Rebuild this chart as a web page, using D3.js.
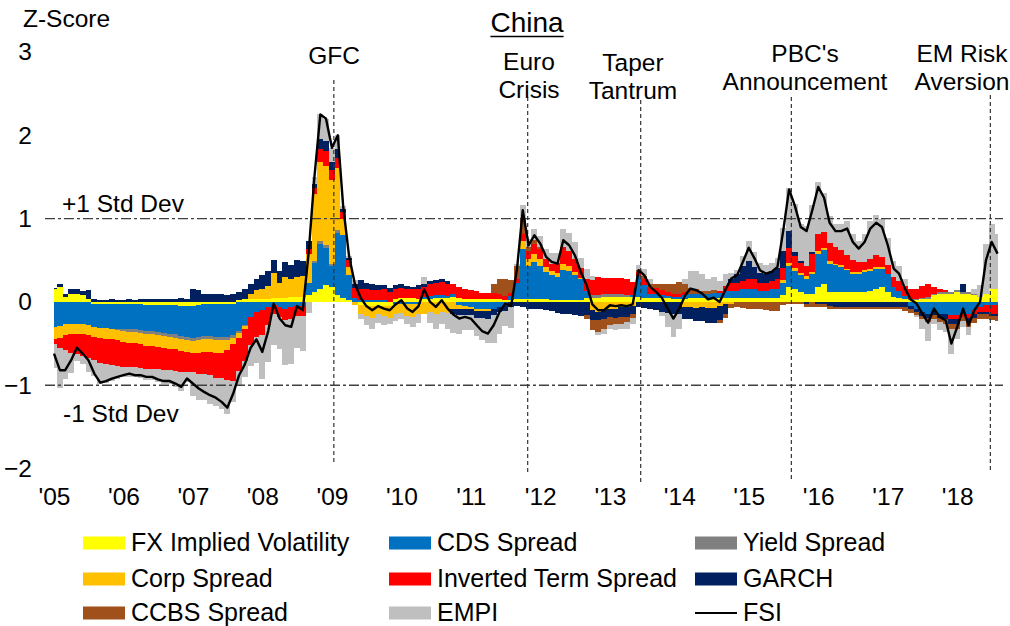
<!DOCTYPE html>
<html>
<head>
<meta charset="utf-8">
<script src="https://cdn.jsdelivr.net/npm/d3@7"></script>
<style>
  body { margin: 0; background: #fff; }
  svg text { font-family: "Liberation Sans", Arial, sans-serif; fill: #000; }
</style>
</head>
<body>
<svg id="chart" width="1010" height="626"></svg>
<script>
// monthly contributions to the FSI, Jan 2005 .. Aug 2018 (one row per year)
var fxVol = [
  .15, .18, .06, .10, .10, .08, .04, -.02, -.03, -.03, -.03, -.03,
  -.03, -.03, -.03, -.03, -.04, -.04, -.04, -.04, -.04, -.04, -.05, -.05,
  -.05, -.04, -.03, -.03, -.03, -.03, -.03, -.02, .02, .03, .04, .04,
  .04, .04, .05, .05, .05, .06, .06, .06, .08, .12, .15, .20,
  .18, .08, .05, .02, 0, -.04, -.05, -.05, -.05, -.05, -.05, .04,
  .05, .05, .05, .04, .04, .04, .05, .05, .05, .06, .05, .04,
  .04, .04, .03, .03, .03, .03, .02, .02, .03, .03, .03, .03,
  .03, .03, .02, .02, .02, .02, .02, .02, .05, .05, .05, .06,
  .06, .06, .06, .06, .06, .06, .05, .05, .05, .05, .05, .04,
  .04, .04, .05, .05, .05, .05, .05, .05, .05, .05, .05, .05,
  .05, .05, .05, .05, .05, .05, .08, .18, .15, .12, .10, .10,
  .18, .22, .12, .12, .12, .12, .12, .12, .12, .13, .16, .18,
  .12, .06, .05, .03, .02, .02, .03, .04, .08, .10, .10, .10,
  .12, .10, .10, .08, .06, .10, .15, .16
];
var cdsSpread = [
  -.30, -.29, -.27, -.27, -.27, -.27, -.28, -.28, -.28, -.28, -.29, -.29,
  -.30, -.30, -.30, -.31, -.31, -.31, -.32, -.33, -.34, -.35, -.36, -.37,
  -.38, -.38, -.38, -.38, -.39, -.39, -.39, -.38, -.35, -.28, -.18, -.12,
  -.10, -.06, -.04, -.06, -.08, -.06, -.05, -.05, .15, .35, .55, .45,
  .25, .75, .75, .30, .05, .02, .02, .02, .02, .02, 0, -.03,
  -.03, -.03, -.02, -.03, .02, .03, .03, .03, .02, .03, -.04, -.05,
  -.06, -.08, -.08, -.08, -.08, -.06, -.05, .05, .20, .60, .40, .45,
  .40, .33, .30, .28, .36, .35, .30, .25, .08, 0, 0, 0,
  0, 0, 0, 0, .02, .25, .15, .05, .04, .03, .02, .02,
  .02, .04, .04, .04, .04, .05, .06, .06, .08, .08, .08, .10,
  .10, .10, .08, .08, .10, .10, .15, .25, .22, .20, .18, .24,
  .40, .40, .34, .32, .30, .26, .22, .22, .24, .24, .24, .22,
  .22, .12, .08, .04, -.05, -.08, -.12, -.14, -.12, -.14, -.15, -.16,
  -.16, -.14, -.14, -.10, -.06, -.04, -.04, -.04
];
var yieldSpread = [
  0, 0, 0, 0, 0, 0, 0, 0, 0, 0, 0, -.02,
  -.02, -.03, -.03, -.03, -.04, -.04, -.04, -.04, -.04, -.04, -.04, -.04,
  -.04, -.04, -.04, -.04, -.04, -.04, -.04, -.03, -.02, -.01, 0, 0,
  0, 0, 0, 0, 0, 0, 0, 0, 0, .02, .03, .03,
  .03, .03, 0, 0, 0, 0, 0, 0, 0, 0, 0, 0,
  0, 0, 0, 0, 0, 0, 0, 0, 0, 0, 0, 0,
  0, 0, 0, 0, 0, 0, 0, 0, 0, 0, 0, 0,
  0, 0, 0, 0, 0, 0, 0, 0, 0, .03, .03, .03,
  .03, .03, .03, .02, 0, 0, 0, 0, 0, 0, 0, 0,
  0, 0, 0, 0, 0, 0, 0, 0, 0, 0, 0, 0,
  0, 0, 0, 0, 0, 0, 0, 0, 0, 0, 0, 0,
  0, 0, 0, 0, 0, 0, 0, 0, 0, 0, 0, 0,
  0, 0, 0, 0, .02, .02, .02, .02, .02, .02, .02, .02,
  .02, .02, .02, .02, 0, 0, 0, 0
];
var corpSpread = [
  -.15, -.14, -.13, -.12, -.12, -.12, -.12, -.12, -.12, -.13, -.13, -.12,
  -.13, -.13, -.13, -.13, -.14, -.14, -.14, -.14, -.14, -.14, -.14, -.14,
  -.14, -.15, -.15, -.15, -.15, -.15, -.12, -.08, -.06, -.04, .06, .10,
  .12, .15, .30, .18, .25, .22, .24, .25, .35, .80, .95, .95,
  1.0, .75, .20, .10, -.04, -.10, -.12, -.14, -.10, -.12, -.14, -.12,
  -.10, -.14, -.16, -.12, -.15, -.12, -.15, -.12, -.13, -.08, -.05, -.04,
  -.03, -.03, -.03, -.03, 0, 0, 0, 0, 0, .10, .08, .10,
  .08, .06, .05, .05, .08, .06, .04, .02, 0, -.10, -.12, -.10,
  -.08, -.08, -.06, -.06, -.05, 0, 0, 0, 0, 0, 0, 0,
  0, -.06, -.06, -.07, -.06, -.07, -.07, -.05, -.03, -.02, 0, 0,
  0, 0, 0, 0, 0, 0, .03, .04, .04, .03, .03, .02,
  .03, .03, .03, .02, .02, .02, .02, .02, .02, .02, .02, .02,
  0, 0, 0, 0, 0, 0, 0, 0, 0, 0, 0, 0,
  0, 0, 0, 0, 0, 0, 0, 0
];
var termSpread = [
  -.06, -.12, -.18, -.22, -.24, -.26, -.27, -.28, -.30, -.30, -.31, -.31,
  -.30, -.29, -.29, -.29, -.28, -.28, -.27, -.27, -.26, -.26, -.25, -.24,
  -.23, -.25, -.26, -.28, -.30, -.30, -.36, -.44, -.40, -.38, -.34, -.30,
  -.30, -.22, -.10, -.12, -.14, -.15, -.12, -.12, .05, .08, .15, .18,
  .12, .12, .08, .08, .12, .14, .13, .12, .12, .13, .12, .12,
  .12, .10, .10, .12, .12, .14, .15, .16, .15, .13, .13, .12,
  .10, .09, .08, .08, .08, .06, .05, .04, .05, .08, .10, .12,
  .12, .10, .08, .12, .20, .18, .16, .12, .15, .18, .22, .20,
  .20, .20, .20, .20, .16, .05, .08, .08, .08, .06, .05, .04,
  .04, .04, 0, 0, 0, 0, 0, .02, .06, .10, .10, .10,
  .12, .12, .10, .10, .10, .12, .15, .18, .14, .12, .12, .22,
  .20, .19, .22, .20, .18, .16, .14, .12, .10, .12, .14, .12,
  .10, .12, .12, .12, .12, .12, .14, .16, .08, .04, .02, -.04,
  -.04, -.04, -.05, -.05, -.06, -.08, -.10, -.10
];
var garch = [
  .02, .03, .04, .05, .06, .05, .10, .03, .02, .02, .03, .02,
  .02, .04, .02, .03, .04, .04, .03, .03, .04, .04, .05, .04,
  .15, .14, .10, .10, .10, .09, .08, .10, .10, .12, .12, .14,
  .16, .18, .15, .14, .18, .16, .20, .18, .10, .05, .12, .12,
  .10, .10, .04, .03, .05, .10, .08, .08, .06, .05, .05, .04,
  .05, .04, .03, .04, .04, .04, .03, .04, .03, -.06, -.07, -.07,
  -.07, -.08, -.08, -.09, -.08, -.06, -.06, -.06, -.05, -.06, -.08, -.08,
  -.09, -.10, -.11, -.13, -.14, -.15, -.16, -.17, -.16, -.12, -.10, -.10,
  -.10, -.11, -.12, -.12, -.10, -.06, -.07, -.09, -.10, -.12, -.13, -.14,
  -.14, -.14, -.15, -.16, -.17, -.18, -.18, -.17, -.12, .05, .10, .18,
  .22, .15, .12, .10, .12, .14, .20, .20, .05, .02, -.03, .02,
  -.03, -.03, -.05, -.06, -.06, -.06, -.06, -.06, -.06, -.06, -.06, -.06,
  -.06, -.06, -.06, -.06, -.04, -.04, -.05, -.05, -.04, -.05, -.06, -.06,
  -.06, .10, -.05, -.04, -.03, -.03, -.03, -.03
];
var ccbsSpread = [
  0, 0, 0, 0, 0, 0, 0, 0, 0, 0, 0, 0,
  0, 0, 0, 0, 0, 0, 0, 0, 0, 0, 0, 0,
  0, 0, 0, 0, 0, 0, 0, 0, 0, 0, 0, 0,
  0, 0, 0, 0, 0, 0, 0, 0, 0, 0, 0, 0,
  0, 0, 0, 0, 0, 0, 0, 0, 0, 0, 0, 0,
  0, 0, 0, 0, 0, 0, 0, 0, 0, 0, 0, 0,
  0, 0, 0, 0, .10, .18, .20, .15, .15, .20, .05, .04,
  .03, 0, 0, 0, 0, 0, 0, 0, -.04, -.12, -.14, -.12,
  -.10, -.08, -.08, -.06, -.04, .02, .03, .04, .05, .08, .10, .12,
  .14, .10, .08, .06, .04, .03, .03, -.03, -.04, -.05, -.06, -.07,
  -.08, -.08, -.09, -.10, -.11, -.11, -.04, -.02, -.02, -.03, -.03, -.06,
  -.03, -.03, -.03, -.03, -.03, -.03, -.03, -.03, -.03, -.03, -.03, -.03,
  -.03, -.03, -.03, -.05, -.04, -.04, -.04, -.05, -.04, -.05, -.05, -.06,
  -.06, -.05, -.06, -.06, -.05, -.05, -.05, -.06
];
var empi = [
  -.28, -.48, -.34, -.24, -.08, -.10, -.17, -.19, -.26, -.23, -.19, -.15,
  -.12, -.12, -.12, -.12, -.13, -.13, -.15, -.16, -.17, -.19, -.23, -.12,
  -.29, -.32, -.32, -.34, -.34, -.38, -.41, -.25, -.17, -.19, -.25, -.31,
  -.52, -.44, -.38, -.39, -.54, -.53, -.38, -.42, -.13, .08, .30, .27,
  .17, .17, .03, .02, .04, -.07, -.11, -.13, -.10, -.11, -.08, -.08,
  -.07, -.10, -.12, -.10, .08, -.13, -.17, -.14, -.20, -.23, -.22, -.18,
  -.18, -.22, -.27, -.29, -.33, -.27, -.18, -.25, .02, .15, .10, .14,
  .13, .12, .14, .12, .22, .22, .20, .12, .12, .05, -.04, -.07,
  -.05, -.07, -.07, -.09, -.08, .06, .08, .05, 0, -.05, -.17, -.28,
  -.18, .06, .20, .22, .20, .15, .16, .12, .15, .07, .05, .12,
  .24, .18, .12, .11, .10, .12, .28, .52, .57, .44, .48, .56,
  .63, .47, .32, .28, .32, .41, .31, .25, .33, .46, .48, .45,
  .33, .19, .18, .08, 0, -.02, -.12, -.23, -.06, -.10, -.10, -.30,
  -.12, -.07, -.10, .05, .14, .60, .79, .65
];

var seriesKeys = ["fx", "cds", "yld", "corp", "term", "garch", "ccbs", "empi"];
var seriesNames = ["FX Implied Volatility", "CDS Spread", "Yield Spread", "Corp Spread",
                   "Inverted Term Spread", "GARCH", "CCBS Spread", "EMPI"];
var seriesColors = ["#ffff00", "#0070c0", "#808080", "#ffc000",
                    "#ff0000", "#002060", "#a0501a", "#bfbfbf"];
var yTicks = [3, 2, 1, 0, -1, -2];
var yearTicks = d3.range(2005, 2019).map(function(y) { return new Date(y, 0, 1); });

// crisis markers: label lines, date, pixel top/bottom of the dashed line
var events = [
  {lines: ["GFC"], date: new Date(2009, 0, 11), top: 80, bottom: 463, labelY: 64},
  {lines: ["Euro", "Crisis"], date: new Date(2011, 9, 27), top: 97, bottom: 473, labelY: 70},
  {lines: ["Taper", "Tantrum"], date: new Date(2013, 5, 12), top: 100, bottom: 482, labelY: 71},
  {lines: ["PBC's", "Announcement"], date: new Date(2015, 7, 13), top: 97, bottom: 480, labelY: 62},
  {lines: ["EM Risk", "Aversion"], date: new Date(2018, 5, 24), top: 95, bottom: 473, labelY: 62}
];

var months = d3.timeMonth.range(new Date(2005, 0, 1), new Date(2018, 8, 1));
var cols = [fxVol, cdsSpread, yieldSpread, corpSpread, termSpread, garch, ccbsSpread, empi];

var table = months.map(function(d, i) {
  var row = {date: d};
  seriesKeys.forEach(function(k, j) { row[k] = cols[j][i]; });
  // the FSI is the sum of its components
  row.fsi = d3.sum(seriesKeys, function(k) { return row[k]; });
  return row;
});

var svg = d3.select("#chart");

var x = d3.scaleTime()
  .domain([new Date(2005, 0, 1), new Date(2018, 7, 19)])
  .range([54, 1001]);

var y = d3.scaleLinear()
  .domain([-2, 3])
  .range([468.5, 52]);

var stack = d3.stack()
  .keys(seriesKeys)
  .offset(d3.stackOffsetDiverging);

var layers = stack(table);

var area = d3.area()
  .x(function(d) { return x(d.data.date); })
  .y0(function(d) { return y(d[0]); })
  .y1(function(d) { return y(d[1]); })
  .curve(d3.curveStep);

svg.append("g")
  .selectAll("path")
  .data(layers)
  .enter().append("path")
    .attr("d", area)
    .attr("fill", function(d, i) { return seriesColors[i]; })
    .attr("shape-rendering", "crispEdges");

// +/- 1 std dev guides
svg.append("g")
  .selectAll("line")
  .data([1, -1])
  .enter().append("line")
    .attr("x1", 45)
    .attr("x2", 1003)
    .attr("y1", function(d) { return y(d); })
    .attr("y2", function(d) { return y(d); })
    .attr("stroke", "#404040")
    .attr("stroke-width", 1.4)
    .attr("stroke-dasharray", "10,3,3,3");

svg.append("text").attr("x", 62).attr("y", 212).attr("font-size", "24.5px").text("+1 Std Dev");
svg.append("text").attr("x", 63).attr("y", 422).attr("font-size", "24.5px").text("-1 Std Dev");

// event markers
var ev = svg.append("g")
  .selectAll("g")
  .data(events)
  .enter().append("g");

ev.append("line")
  .attr("x1", function(d) { return x(d.date); })
  .attr("x2", function(d) { return x(d.date); })
  .attr("y1", function(d) { return d.top; })
  .attr("y2", function(d) { return d.bottom; })
  .attr("stroke", "#333")
  .attr("stroke-width", 1.2)
  .attr("stroke-dasharray", "4,3");

var labelX = {"GFC": 334, "Euro": 529, "Taper": 633, "PBC's": 805, "EM Risk": 962};
ev.each(function(d) {
  var g = d3.select(this);
  d.lines.forEach(function(t, i) {
    g.append("text")
      .attr("x", labelX[d.lines[0]])
      .attr("y", d.labelY + i * 27.5)
      .attr("text-anchor", "middle")
      .attr("font-size", "24.5px")
      .text(t);
  });
});

// FSI line
var line = d3.line()
  .x(function(d) { return x(d.date); })
  .y(function(d) { return y(d.fsi); });

svg.append("path")
  .datum(table)
  .attr("d", line)
  .attr("fill", "none")
  .attr("stroke", "#000")
  .attr("stroke-width", 2.4)
  .attr("stroke-linejoin", "round");

// axes
var yAxis = svg.append("g")
  .attr("transform", "translate(32,0)")
  .call(d3.axisLeft(y).tickValues(yTicks).tickSize(0).tickPadding(0).tickFormat(d3.format("d")));
yAxis.select(".domain").remove();
yAxis.selectAll("text").attr("font-size", "24.5px").attr("font-family", null).style("fill", "#000");

var xAxis = svg.append("g")
  .attr("transform", "translate(0,488)")
  .call(d3.axisBottom(x).tickValues(yearTicks).tickSize(0).tickPadding(0).tickFormat(d3.timeFormat("'%y")));
xAxis.select(".domain").remove();
xAxis.selectAll("text").attr("font-size", "24.5px").attr("font-family", null).style("fill", "#000");

svg.append("text").attr("x", 23).attr("y", 27).attr("font-size", "24.5px").text("Z-Score");

// title, underlined
var title = svg.append("text")
  .attr("x", 527).attr("y", 32)
  .attr("text-anchor", "middle")
  .attr("font-size", "28px")
  .text("China");
var tw = title.node().getComputedTextLength();
svg.append("line")
  .attr("x1", 527 - tw / 2).attr("x2", 527 + tw / 2)
  .attr("y1", 36.5).attr("y2", 36.5)
  .attr("stroke", "#000").attr("stroke-width", 1.7);

// legend, three columns filled row by row
var legendItems = seriesNames.map(function(n, i) { return {name: n, color: seriesColors[i], kind: "box"}; });
legendItems.push({name: "FSI", color: "#000", kind: "line"});
var colX = [83, 389, 695];
var rowY = [543, 579, 613];

var leg = svg.append("g")
  .selectAll("g")
  .data(legendItems)
  .enter().append("g")
    .attr("transform", function(d, i) {
      return "translate(" + colX[i % 3] + "," + rowY[Math.floor(i / 3)] + ")";
    });

leg.filter(function(d) { return d.kind == "box"; })
  .append("rect")
    .attr("x", 0).attr("y", -6.5)
    .attr("width", 42).attr("height", 13)
    .attr("fill", function(d) { return d.color; });

leg.filter(function(d) { return d.kind == "line"; })
  .append("line")
    .attr("x1", 0).attr("x2", 42)
    .attr("y1", 0).attr("y2", 0)
    .attr("stroke", "#000").attr("stroke-width", 2);

leg.append("text")
  .attr("x", 48).attr("y", 7.5)
  .attr("font-size", "25px")
  .text(function(d) { return d.name; });
</script>
</body>
</html>
